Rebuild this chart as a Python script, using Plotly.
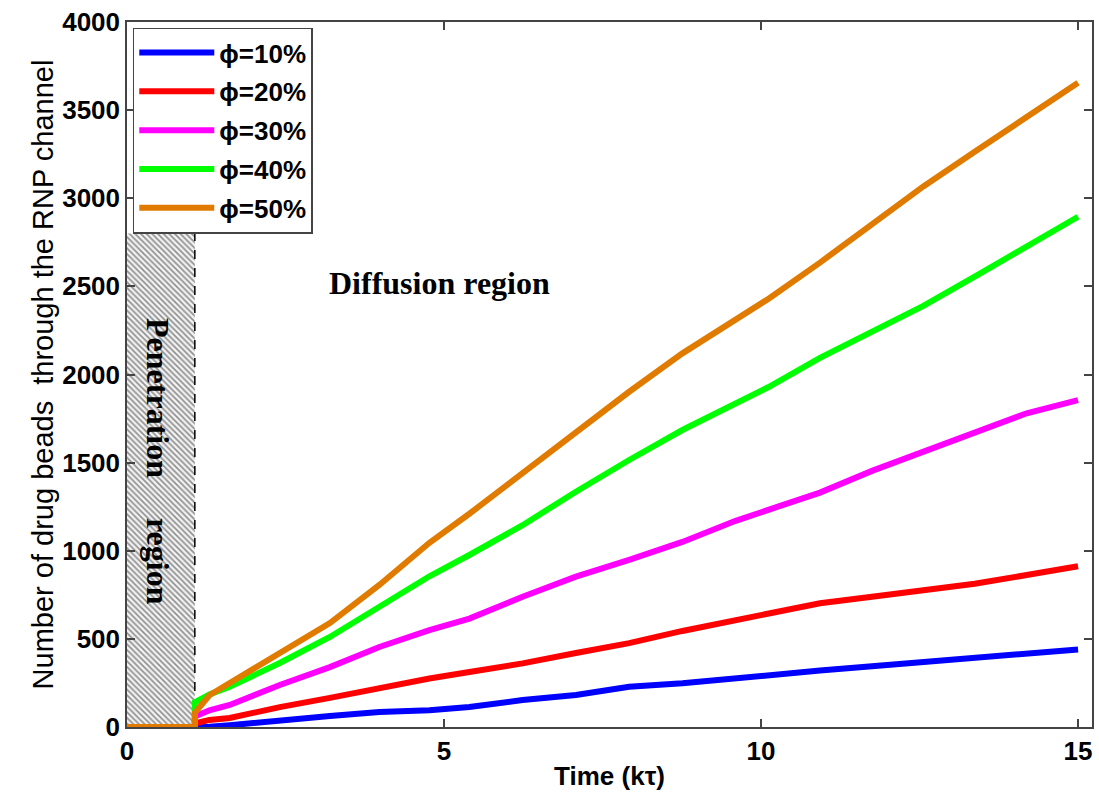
import plotly.graph_objects as go

# ---------------- data ----------------
time_k = [0, 1.07, 1.07, 1.3, 1.62, 2.41, 3.2, 3.98, 4.77, 5.4, 6.24, 7.08,
          7.92, 8.76, 9.6, 10.12, 10.93, 11.75, 12.56, 13.37, 14.19, 15]

phi10 = [0, 0, 0, 2, 10, 40, 62, 85, 95, 113, 153, 182,
         228, 248, 278, 296, 320, 345, 369, 394, 419, 440]
phi20 = [0, 0, 20, 40, 51, 113, 165, 221, 275, 312, 361, 420,
         476, 545, 607, 640, 702, 739, 776, 813, 862, 912]
phi30 = [0, 0, 60, 95, 125, 238, 340, 454, 550, 615, 739, 853,
         948, 1050, 1170, 1232, 1330, 1453, 1564, 1675, 1780, 1855]
phi40 = [0, 0, 140, 185, 228, 363, 511, 681, 855, 976, 1145, 1335,
         1515, 1685, 1837, 1929, 2094, 2241, 2389, 2555, 2731, 2895]
phi50 = [0, 0, 80, 180, 250, 420, 590, 806, 1045, 1210, 1439, 1665,
         1902, 2120, 2309, 2430, 2635, 2857, 3067, 3264, 3465, 3655]

series_names = ["ϕ=10%", "ϕ=20%", "ϕ=30%", "ϕ=40%", "ϕ=50%"]
series_values = [phi10, phi20, phi30, phi40, phi50]
series_colors = ["#0000ff", "#ff0000", "#ff00ff", "#00ff00", "#e07b00"]

pen_end = 1.07      # end of penetration region (kτ)
pen_top = 2800      # height of hatched region

x_ticks = [0, 5, 10, 15]
y_ticks = [0, 500, 1000, 1500, 2000, 2500, 3000, 3500, 4000]

SANS = "Liberation Sans, Arial, sans-serif"
SERIF = "Liberation Serif, Times New Roman, serif"

fig = go.Figure()

# hatched penetration region
fig.add_trace(go.Scatter(
    x=[0, pen_end, pen_end, 0, 0], y=[0, 0, pen_top, pen_top, 0],
    mode="lines", line=dict(width=0), fill="toself",
    fillcolor="white",
    fillpattern=dict(shape="\\", fgcolor="#2a2a2a", bgcolor="#f2f2f2",
                     size=4, solidity=0.4),
    showlegend=False, hoverinfo="skip"))

# dashed boundary
fig.add_trace(go.Scatter(
    x=[pen_end, pen_end], y=[0, pen_top], mode="lines",
    line=dict(color="black", width=1.5, dash="dash"),
    showlegend=False, hoverinfo="skip"))

for name, vals, col in zip(series_names, series_values, series_colors):
    fig.add_trace(go.Scatter(
        x=time_k, y=vals, mode="lines", name=name, legendgroup=name,
        line=dict(color=col, width=6)))

fig.add_annotation(x=4.93, y=2520, xref="x", yref="y", text="<b>Diffusion region</b>",
                   showarrow=False, font=dict(family=SERIF, size=32, color="black"))
fig.add_annotation(x=0.5, y=1505, xref="x", yref="y",
                   text="<b>Penetration\u00a0\u00a0\u00a0\u00a0\u00a0region</b>", textangle=90,
                   showarrow=False, font=dict(family=SERIF, size=32, color="black"))

axis_common = dict(
    showgrid=False, zeroline=False, showline=True, linecolor="#444444", linewidth=1.5,
    mirror="ticks", ticks="inside", ticklen=8, tickcolor="#444444", tickwidth=1.5,
    tickfont=dict(family=SANS, size=26, color="black", weight="bold"),
)

fig.update_xaxes(range=[0, 15.22], tickvals=x_ticks,
                 title=dict(text="<b>Time (kτ)</b>", font=dict(family=SANS, size=26, color="black"),
                            standoff=2),
                 **axis_common)
fig.update_yaxes(range=[0, 4000], tickvals=y_ticks,
                 title=dict(text="Number of drug beads  through the RNP channel",
                            font=dict(family=SANS, size=29, color="black"), standoff=0),
                 **axis_common)

fig.update_layout(
    width=1099, height=804,
    margin=dict(l=127, r=5, t=22, b=77),
    plot_bgcolor="white", paper_bgcolor="white",
    legend=dict(x=0.006, y=0.992, xanchor="left", yanchor="top",
                bgcolor="white", bordercolor="#444444", borderwidth=1.5,
                font=dict(family=SANS, size=26, color="black", weight="bold"),
                tracegroupgap=2, itemwidth=75),
)

fig.write_html("out.html")
